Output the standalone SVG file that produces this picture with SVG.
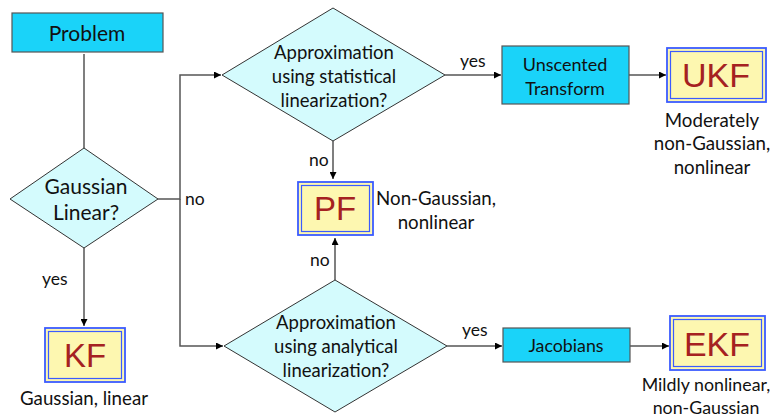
<svg xmlns="http://www.w3.org/2000/svg" width="775" height="418" viewBox="0 0 775 418">
<defs>
<style>
.box{fill:#1ad3f9;stroke:#555;stroke-width:1.2}
.dia{fill:#d4fbfd;stroke:#333;stroke-width:1}
.res{fill:#fdf7b0;stroke:#3b5bff;stroke-width:1.8}
.resi{fill:none;stroke:#3b5bff;stroke-width:1.2}
.t{font-family:Lato,"Open Sans",sans-serif;fill:#111;text-anchor:middle}
.big{font-family:"Liberation Sans",Arial,sans-serif;fill:#a52121;text-anchor:middle}
.lbl{font-family:Lato,"Open Sans",sans-serif;fill:#111;font-size:17.5px}
.c{fill:none;stroke:#555;stroke-width:1.5}
</style>
<marker id="ah" viewBox="0 0 10 10" refX="10" refY="5" markerWidth="7" markerHeight="7" markerUnits="userSpaceOnUse" orient="auto"><path d="M0,0 L10,5 L0,10 z" fill="#000"/></marker>
</defs>
<rect width="775" height="418" fill="#fff"/>
<g id="connectors">
<path class="c" d="M84,54 V148"/>
<path class="c" d="M84,248 V326" marker-end="url(#ah)"/>
<path class="c" d="M158,199 H180 V75 H221" marker-end="url(#ah)"/>
<path class="c" d="M180,199 V346 H223" marker-end="url(#ah)"/>
<path class="c" d="M445,75 H501" marker-end="url(#ah)"/>
<path class="c" d="M629,75 H666" marker-end="url(#ah)"/>
<path class="c" d="M333,141 V179" marker-end="url(#ah)"/>
<path class="c" d="M335,280 V238" marker-end="url(#ah)"/>
<path class="c" d="M447,346 H502" marker-end="url(#ah)"/>
<path class="c" d="M630,346 H669" marker-end="url(#ah)"/>
<text class="lbl" x="185" y="205">no</text>
<text class="lbl" x="42" y="285">yes</text>
<text class="lbl" x="460" y="67">yes</text>
<text class="lbl" x="309" y="166">no</text>
<text class="lbl" x="310" y="266">no</text>
<text class="lbl" x="462" y="336">yes</text>
</g>
<g id="problem">
<rect class="box" x="12" y="13" width="151" height="39"/>
<text class="t" x="87" y="41" font-size="21">Problem</text>
</g>
<g id="gaussian">
<polygon class="dia" points="84,148 158,199 84,248 10,199"/>
<text class="t" x="86" y="194" font-size="21">Gaussian</text>
<text class="t" x="86" y="220" font-size="21">Linear?</text>
</g>
<g id="kf">
<rect class="res" x="45" y="328" width="80" height="54"/>
<rect class="resi" x="48.5" y="331.5" width="73" height="47"/>
<text class="big" x="85" y="367" font-size="33">KF</text>
<text class="t" x="84" y="405" font-size="18.7">Gaussian, linear</text>
</g>
<g id="stat">
<polygon class="dia" points="333,8 445,75 333,141 222,75"/>
<text class="t" x="334" y="59" font-size="18.5">Approximation</text>
<text class="t" x="334" y="83" font-size="18.5">using statistical</text>
<text class="t" x="334" y="107" font-size="18.5">linearization?</text>
</g>
<g id="unscented">
<rect class="box" x="502" y="46" width="127" height="58"/>
<text class="t" x="565" y="71" font-size="18">Unscented</text>
<text class="t" x="565" y="95" font-size="18">Transform</text>
</g>
<g id="ukf">
<rect class="res" x="667" y="48" width="99" height="54"/>
<rect class="resi" x="670.5" y="51.5" width="92" height="47"/>
<text class="big" x="716" y="87" font-size="34">UKF</text>
<text class="t" x="712" y="127" font-size="18.7">Moderately</text>
<text class="t" x="712" y="150" font-size="18.7">non-Gaussian,</text>
<text class="t" x="712" y="174" font-size="18.7">nonlinear</text>
</g>
<g id="pf">
<rect class="res" x="298" y="182" width="75" height="53"/>
<rect class="resi" x="301.5" y="185.5" width="68" height="46"/>
<text class="big" x="335" y="220" font-size="33">PF</text>
<text class="t" x="436" y="205" font-size="18.7">Non-Gaussian,</text>
<text class="t" x="436" y="229" font-size="18.7">nonlinear</text>
</g>
<g id="anal">
<polygon class="dia" points="335,280 447,346 335,412 224,346"/>
<text class="t" x="336" y="329" font-size="18.5">Approximation</text>
<text class="t" x="336" y="353" font-size="18.5">using analytical</text>
<text class="t" x="336" y="377" font-size="18.5">linearization?</text>
</g>
<g id="jacobians">
<rect class="box" x="503" y="328" width="127" height="34"/>
<text class="t" x="566" y="352" font-size="17.8">Jacobians</text>
</g>
<g id="ekf">
<rect class="res" x="670" y="316" width="95" height="54"/>
<rect class="resi" x="673.5" y="319.5" width="88" height="47"/>
<text class="big" x="717" y="356" font-size="34">EKF</text>
<text class="t" x="706" y="391" font-size="17.8">Mildly nonlinear,</text>
<text class="t" x="706" y="414" font-size="17.8">non-Gaussian</text>
</g>
</svg>
